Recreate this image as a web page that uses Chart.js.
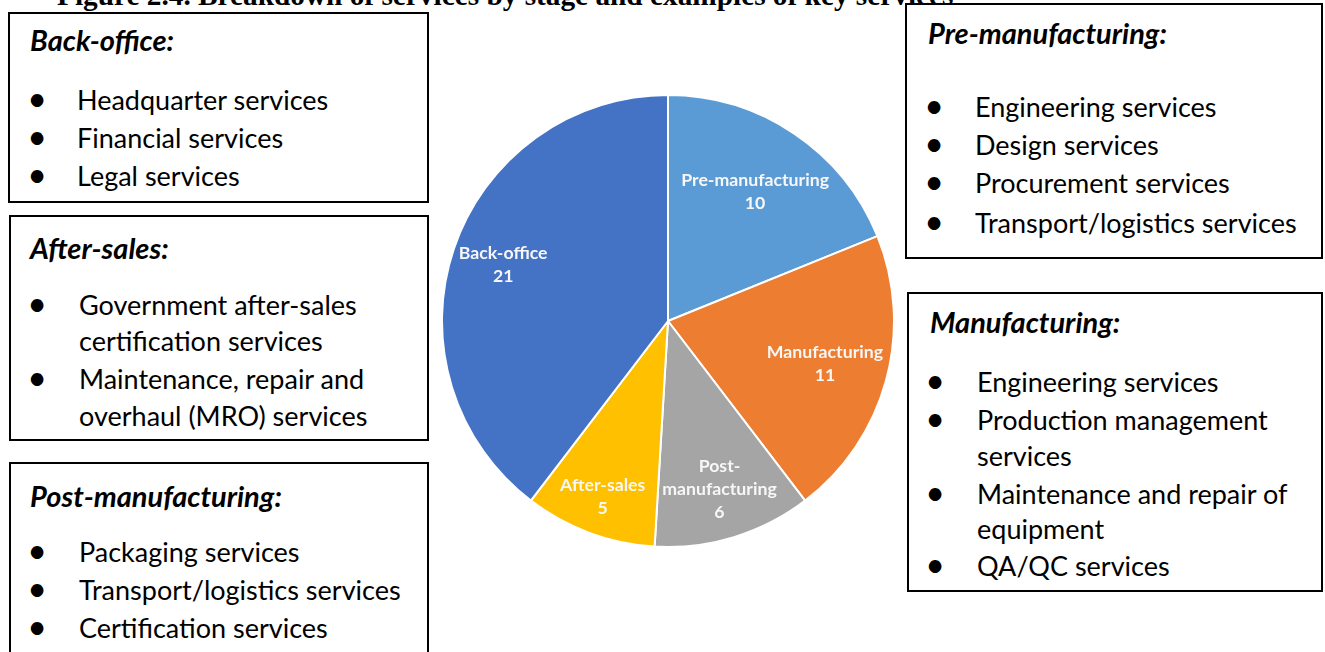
<!DOCTYPE html>
<html>
<head>
<meta charset="utf-8">
<title>Breakdown of services by stage</title>
<script src="https://cdn.jsdelivr.net/npm/chart.js@4.4.0/dist/chart.umd.min.js"></script>
<style>
  body { margin: 0; background: #fff; }
  #page { position: relative; width: 1325px; height: 652px; overflow: hidden; font-family: Lato, 'Open Sans', sans-serif; color: #000; }
  .fig-title { position: absolute; left: 57px; top: -19px; font: bold 29.3px 'Liberation Serif', 'Times New Roman', serif; line-height: 29px; white-space: nowrap; }
  .box { position: absolute; border: 2px solid #000; box-sizing: border-box; }
  .t { position: absolute; white-space: nowrap; font-size: 27px; line-height: 36px; height: 36px; }
  .h { font-weight: bold; font-style: italic; font-size: 29px; }
  .b { width: 30px; text-align: center; font-size: 34px; margin-top: -2px; }
  #pie { position: absolute; left: 441px; top: 94px; }
</style>
</head>
<body>
<div id="page">
  <div class="fig-title">Figure 2.4. Breakdown of services by stage and examples of key services</div>

  <!-- left column -->
  <div class="box" style="left:8px;top:12px;width:421px;height:191px"></div>
  <div class="t h" style="left:30px;top:22px">Back-office:</div>
  <div class="t b" style="left:22px;top:82px">•</div><div class="t" style="left:77px;top:82px">Headquarter services</div>
  <div class="t b" style="left:22px;top:120px">•</div><div class="t" style="left:77px;top:120px">Financial services</div>
  <div class="t b" style="left:22px;top:158px">•</div><div class="t" style="left:77px;top:158px">Legal services</div>

  <div class="box" style="left:9px;top:215px;width:420px;height:226px"></div>
  <div class="t h" style="left:30px;top:230px">After-sales:</div>
  <div class="t b" style="left:22px;top:287px">•</div><div class="t" style="left:79px;top:287px">Government after-sales</div>
  <div class="t" style="left:79px;top:323px">certification services</div>
  <div class="t b" style="left:22px;top:361px">•</div><div class="t" style="left:79px;top:361px">Maintenance, repair and</div>
  <div class="t" style="left:79px;top:398px">overhaul (MRO) services</div>

  <div class="box" style="left:9px;top:462px;width:420px;height:260px"></div>
  <div class="t h" style="left:30px;top:478px">Post-manufacturing:</div>
  <div class="t b" style="left:22px;top:534px">•</div><div class="t" style="left:79px;top:534px">Packaging services</div>
  <div class="t b" style="left:22px;top:572px">•</div><div class="t" style="left:79px;top:572px">Transport/logistics services</div>
  <div class="t b" style="left:22px;top:610px">•</div><div class="t" style="left:79px;top:610px">Certification services</div>

  <!-- right column -->
  <div class="box" style="left:905px;top:3px;width:418px;height:256px"></div>
  <div class="t h" style="left:928px;top:15px">Pre-manufacturing:</div>
  <div class="t b" style="left:919px;top:89px">•</div><div class="t" style="left:975px;top:89px">Engineering services</div>
  <div class="t b" style="left:919px;top:127px">•</div><div class="t" style="left:975px;top:127px">Design services</div>
  <div class="t b" style="left:919px;top:165px">•</div><div class="t" style="left:975px;top:165px">Procurement services</div>
  <div class="t b" style="left:919px;top:205px">•</div><div class="t" style="left:975px;top:205px">Transport/logistics services</div>

  <div class="box" style="left:907px;top:292px;width:416px;height:300px"></div>
  <div class="t h" style="left:930px;top:304px">Manufacturing:</div>
  <div class="t b" style="left:920px;top:364px">•</div><div class="t" style="left:977px;top:364px">Engineering services</div>
  <div class="t b" style="left:920px;top:402px">•</div><div class="t" style="left:977px;top:402px">Production management</div>
  <div class="t" style="left:977px;top:438px">services</div>
  <div class="t b" style="left:920px;top:476px">•</div><div class="t" style="left:977px;top:476px">Maintenance and repair of</div>
  <div class="t" style="left:977px;top:511px">equipment</div>
  <div class="t b" style="left:920px;top:548px">•</div><div class="t" style="left:977px;top:548px">QA/QC services</div>

  <canvas id="pie" width="454" height="454"></canvas>
</div>

<script>
// Number of services per stage, clockwise from the top
const stages = ['Pre-manufacturing', 'Manufacturing', 'Post-manufacturing', 'After-sales', 'Back-office'];
const serviceCounts = [10, 11, 6, 5, 21];
// Slice label text, split where the label wraps
const labelLines = [['Pre-manufacturing'], ['Manufacturing'], ['Post-', 'manufacturing'], ['After-sales'], ['Back-office']];

const stageColors = ['#5B9BD5', '#ED7D31', '#A5A5A5', '#FFC000', '#4472C4'];

// Draws "name / value" inside each slice
const sliceLabels = {
  id: 'sliceLabels',
  afterDatasetsDraw(chart, args, opts) {
    const ctx = chart.ctx;
    const meta = chart.getDatasetMeta(0);
    const values = chart.data.datasets[0].data;
    ctx.save();
    ctx.font = opts.font;
    ctx.fillStyle = opts.color;
    ctx.textAlign = 'center';
    ctx.textBaseline = 'middle';
    meta.data.forEach((arc, i) => {
      const p = arc.getProps(['x', 'y', 'startAngle', 'endAngle', 'outerRadius'], true);
      const mid = (p.startAngle + p.endAngle) / 2;
      const r = p.outerRadius * opts.radius[i];
      const cx = p.x + Math.cos(mid) * r;
      const cy = p.y + Math.sin(mid) * r;
      const lines = [...labelLines[i], String(values[i])];
      const top = cy - (lines.length - 1) * opts.lineHeight / 2;
      lines.forEach((t, j) => ctx.fillText(t, cx, top + j * opts.lineHeight));
    });
    ctx.restore();
  }
};

new Chart(document.getElementById('pie'), {
  type: 'pie',
  data: {
    labels: stages,
    datasets: [{
      data: serviceCounts,
      backgroundColor: stageColors,
      borderColor: '#ffffff',
      borderWidth: 2
    }]
  },
  options: {
    responsive: false,
    animation: false,
    layout: { padding: 0 },
    plugins: {
      legend: { display: false },
      tooltip: { enabled: false },
      sliceLabels: {
        font: 'bold 17.7px Lato, sans-serif',
        color: '#f7f7f7',
        lineHeight: 23,
        radius: [0.69, 0.72, 0.78, 0.83, 0.77]
      }
    }
  },
  plugins: [sliceLabels]
});
</script>
</body>
</html>
